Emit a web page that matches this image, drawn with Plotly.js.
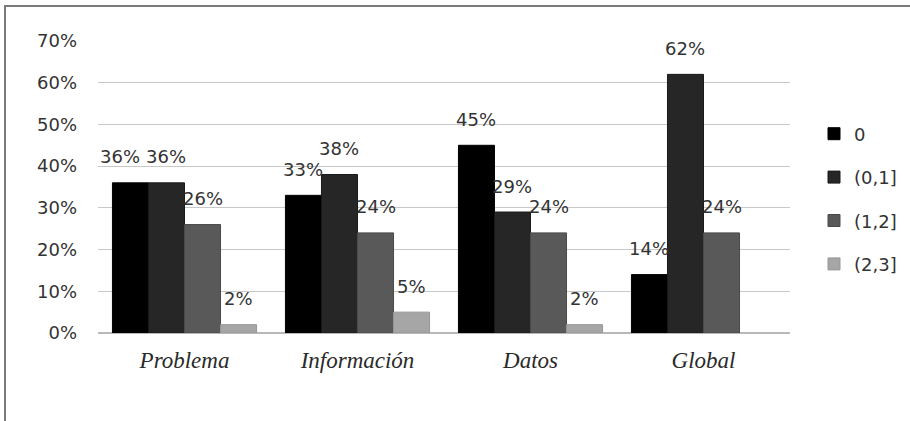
<!DOCTYPE html>
<html>
<head>
<meta charset="utf-8">
<script src="https://cdn.plot.ly/plotly-3.0.1.min.js"></script>
<style>
  html, body { margin: 0; padding: 0; background: #ffffff; }
  #wrap { position: relative; width: 910px; height: 421px; overflow: hidden; }
  #frame { position: absolute; left: 4px; top: 5px; right: -10px; bottom: -10px;
           border-left: 2px solid #7a7a7a; border-top: 2px solid #7a7a7a; }
  #chart { position: absolute; left: 0; top: 0; width: 910px; height: 421px; }
</style>
</head>
<body>
<div id="wrap">
  <div id="frame"></div>
  <div id="chart"></div>
</div>
<script>
// Categories on the x axis
const categories = ['Problema', 'Información', 'Datos', 'Global'];

// Share of answers per score interval
const seriesNames = ['0', '(0,1]', '(1,2]', '(2,3]'];
const score0   = [0.36, 0.33, 0.45, 0.14];
const score0_1 = [0.36, 0.38, 0.29, 0.62];
const score1_2 = [0.26, 0.24, 0.24, 0.24];
const score2_3 = [0.02, 0.05, 0.02, null];

// Y axis ticks
const yTickVals = [0, 0.1, 0.2, 0.3, 0.4, 0.5, 0.6, 0.7];
const yTickText = ['0%', '10%', '20%', '30%', '40%', '50%', '60%', '70%'];

const seriesValues = [score0, score0_1, score1_2, score2_3];
const seriesColors = ['#000000', '#262626', '#595959', '#a6a6a6'];
const seriesLines  = ['#000000', '#1a1a1a', '#4a4a4a', '#979797'];

const labelFont = { family: 'DejaVu Sans, sans-serif', size: 18, color: '#333333' };

const W = 910, H = 421;
const margin = { l: 98, r: 120, t: 41, b: 88 };
const bargap = 0.167;

const traces = seriesValues.map((vals, i) => ({
  type: 'bar',
  name: seriesNames[i],
  legendgroup: 'g' + i,
  x: categories,
  y: vals,
  marker: { color: seriesColors[i], line: { color: seriesLines[i], width: 1 } },
  hoverinfo: 'x+y+name'
}));

// Value labels floating above each bar, centred on its slot within the group
const nSeries = seriesValues.length;
const slotPx = (W - margin.l - margin.r) / categories.length * (1 - bargap) / nSeries;
const annotations = [];
categories.forEach((cat, c) => {
  seriesValues.forEach((vals, i) => {
    const v = vals[c];
    if (v === null || v === undefined) return;
    let shift = (i - (nSeries - 1) / 2) * slotPx;
    // nudge a label left when its right-hand neighbour sits at the same height
    const next = i + 1 < nSeries ? seriesValues[i + 1][c] : null;
    if (next !== null && next !== undefined && Math.abs(next - v) < 0.03) shift -= 10;
    annotations.push({
      x: cat, y: v, xref: 'x', yref: 'y',
      text: Math.round(v * 100) + '%',
      showarrow: false,
      xanchor: 'center', yanchor: 'middle',
      xshift: shift, yshift: 26,
      font: labelFont
    });
  });
});

const layout = {
  width: W,
  height: H,
  paper_bgcolor: 'rgba(0,0,0,0)',
  plot_bgcolor: 'rgba(0,0,0,0)',
  margin: margin,
  barmode: 'group',
  bargap: bargap,
  bargroupgap: 0,
  font: labelFont,
  annotations: annotations,
  xaxis: {
    type: 'category',
    showgrid: false,
    showline: false,
    zeroline: false,
    ticks: '',
    ticklabelstandoff: 11,
    tickfont: { family: 'Liberation Serif, serif', size: 23, style: 'italic', color: '#2a2a2a' }
  },
  yaxis: {
    range: [0, 0.7],
    tickvals: yTickVals,
    ticktext: yTickText,
    showgrid: true,
    gridcolor: '#c8c8c8',
    gridwidth: 1,
    zeroline: true,
    zerolinecolor: '#b8b8b8',
    zerolinewidth: 1.5,
    showline: false,
    ticks: '',
    ticklabelstandoff: 20,
    tickfont: labelFont,
    fixedrange: true
  },
  showlegend: true,
  legend: {
    xref: 'container',
    yref: 'container',
    x: 814 / W,
    xanchor: 'left',
    y: 1 - 199 / H,
    yanchor: 'middle',
    traceorder: 'grouped',
    tracegroupgap: 17,
    font: { family: 'DejaVu Sans, sans-serif', size: 18, color: '#333333' },
    bgcolor: 'rgba(0,0,0,0)',
    itemwidth: 30
  }
};

Plotly.newPlot('chart', traces, layout, { displayModeBar: false, staticPlot: true });
</script>
</body>
</html>
